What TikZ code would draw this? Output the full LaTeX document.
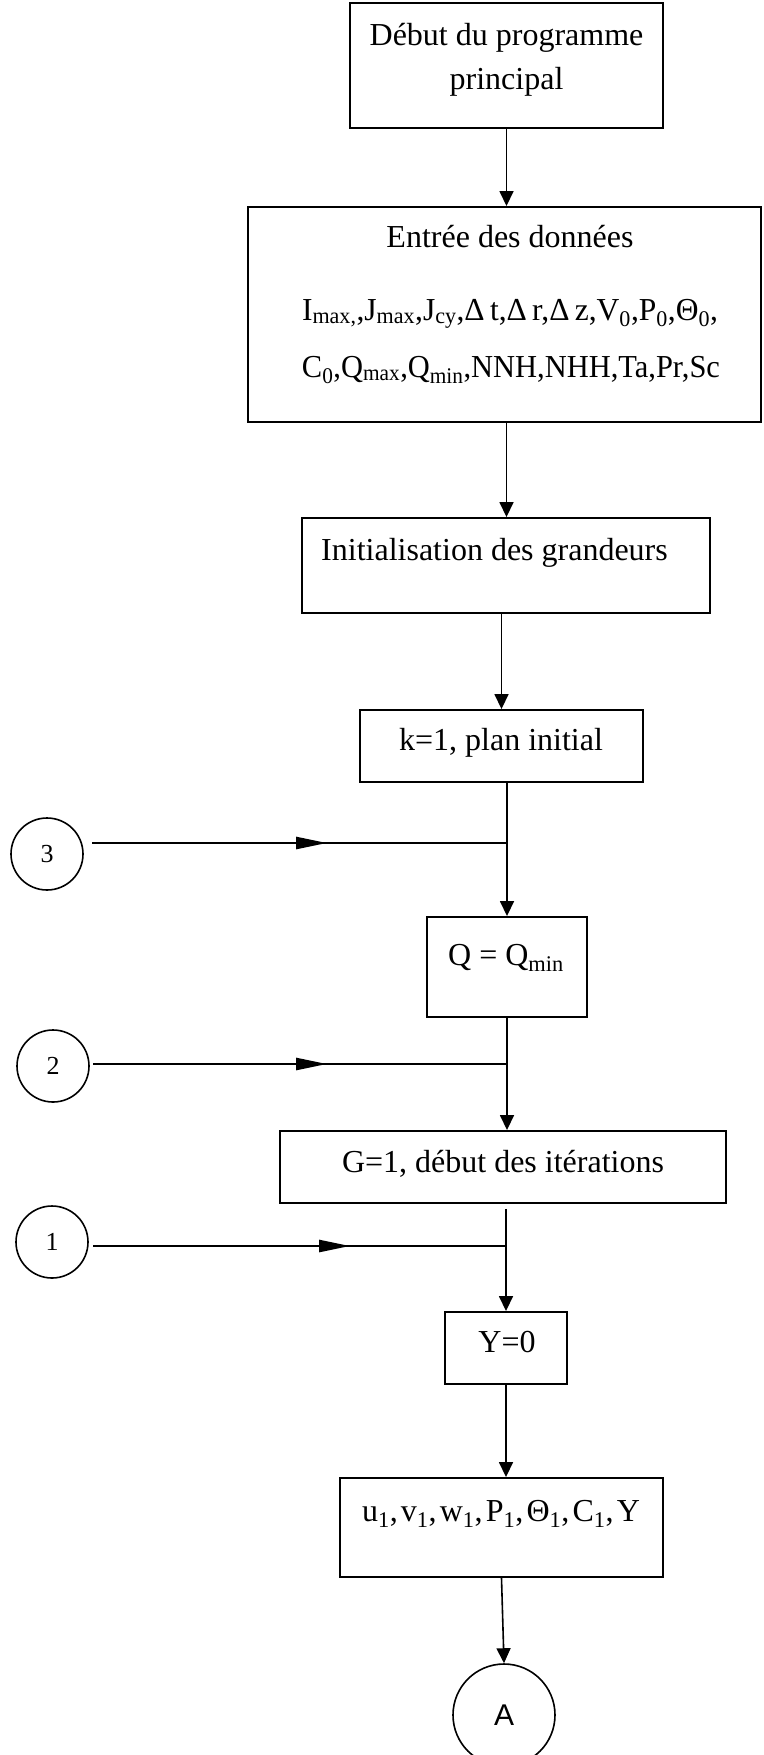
\documentclass[tikz,border=0pt]{standalone}
\usepackage{fontspec}
\setmainfont{Liberation Serif}
\newfontfamily\sansA{Liberation Sans}
\usepackage{graphicx}
\usetikzlibrary{arrows.meta,calc}
\begin{document}
\begin{tikzpicture}[x=1pt,y=-1pt,
  box/.style={draw, line width=1.9pt, inner sep=0pt},
  txt/.style={inner sep=0pt, anchor=base, font=\fontsize{32}{38}\selectfont},
  conn/.style={line width=1.6pt},
  arr/.style={conn, -{Triangle[length=15pt,width=14pt]}},
  harr/.style={line width=2.6pt, -{Triangle[length=31pt,width=12pt]}},
  ring/.style={draw, circle, line width=1.6pt, inner sep=0pt, minimum size=72pt, font=\fontsize{26}{30}\selectfont},
]
\useasboundingbox (0,0) rectangle (763,1755);

% boxes
\node[box, minimum width=313pt, minimum height=125pt] (b1) at (506.5,65.5) {};
\node[txt] (t1a) at (506.5,46) {Début du programme};
\node[txt] (t1b) at (506.5,90) {principal};

\node[box, minimum width=513pt, minimum height=215pt] (b2) at (504.5,314.5) {};
\node[txt] (t2a) at (510,247) {Entrée des données};
\node[txt] (t2b) at (510,320) {\resizebox{416pt}{\height}{I\textsubscript{max,},J\textsubscript{max},J\textsubscript{cy},Δ\,t,Δ\,r,Δ\,z,V\textsubscript{0},P\textsubscript{0},Θ\textsubscript{0},}};
\node[txt] (t2c) at (511,377) {\resizebox{418pt}{\height}{C\textsubscript{0},Q\textsubscript{max},Q\textsubscript{min},NNH,NHH,Ta,Pr,Sc}};

\node[box, minimum width=408pt, minimum height=95pt] (b3) at (506,565.5) {};
\node[txt] (t3) at (494.5,560) {Initialisation des grandeurs};

\node[box, minimum width=283pt, minimum height=72pt] (b4) at (501.5,746) {};
\node[txt] (t4) at (501,750) {k=1, plan initial};

\node[box, minimum width=160pt, minimum height=100pt] (b5) at (507,967) {};
\node[txt] (t5) at (506,965) {Q = Q\textsubscript{min}};

\node[box, minimum width=446pt, minimum height=72pt] (b6) at (503,1167) {};
\node[txt] (t6) at (503,1172) {G=1, début des itérations};

\node[box, minimum width=122pt, minimum height=72pt] (b7) at (506,1348) {};
\node[txt] (t7) at (507,1352) {Y=0};

\node[box, minimum width=323pt, minimum height=99pt] (b8) at (501.5,1527.5) {};
\node[txt] (t8) at (501,1521) {u\textsubscript{1},\hspace{0.1em}v\textsubscript{1},\hspace{0.1em}w\textsubscript{1},\hspace{0.1em}P\textsubscript{1},\hspace{0.1em}Θ\textsubscript{1},\hspace{0.1em}C\textsubscript{1},\hspace{0.1em}Y};

\node[ring, minimum size=102pt, font=\sansA\fontsize{30}{36}\selectfont] (A) at (504,1715) {A};

% connector circles
\node[ring] (c3) at (47,854) {3};
\node[ring] (c2) at (53,1066) {2};
\node[ring] (c1) at (52,1242) {1};

% main flow
\draw[arr] (b1.south) -- (b1.south |- b2.north);
\draw[arr] (b1.south |- b2.south) -- (b1.south |- b3.north);
\draw[arr] (b4.north |- b3.south) -- (b4.north);
\draw[arr] (b5.north |- b4.south) -- (b5.north);
\draw[arr] (b5.south) -- (b5.south |- b6.north);
\path (b6.south -| b7.north) ++(0,5) coordinate (g6);
\draw[arr] (g6) -- (b7.north);
\draw[arr] (b7.south) -- (b7.south |- b8.north);
\draw[arr] (b8.south) -- (A.north);

% return connectors
\coordinate (s3) at (92,843);
\coordinate (h3a) at (204,843);
\coordinate (h3b) at (327,843);
\draw[conn] (s3) -- (s3 -| b5.north);
\draw[harr] (h3a) -- (h3b);

\coordinate (s2) at (93,1064);
\coordinate (h2a) at (204,1064);
\coordinate (h2b) at (327,1064);
\draw[conn] (s2) -- (s2 -| b5.south);
\draw[harr] (h2a) -- (h2b);

\coordinate (s1) at (93,1246);
\coordinate (h1a) at (229,1246);
\coordinate (h1b) at (350,1246);
\draw[conn] (s1) -- (s1 -| b7.north);
\draw[harr] (h1a) -- (h1b);
\end{tikzpicture}
\end{document}
